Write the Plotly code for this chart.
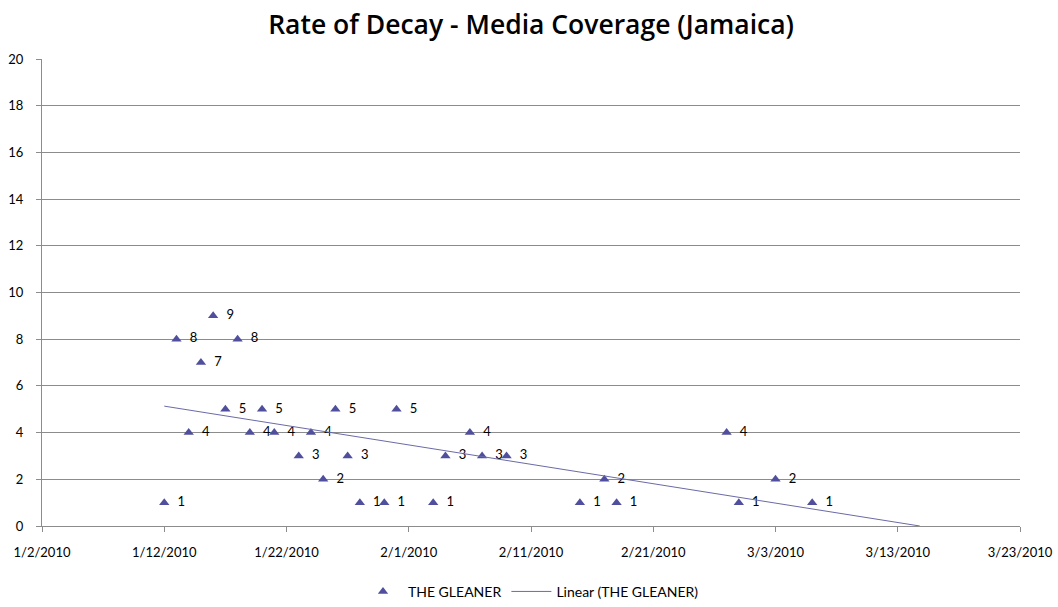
import numpy as np
import pandas as pd
import plotly.graph_objects as go

# Daily article counts for THE GLEANER
dates = ["2010-01-12", "2010-01-13", "2010-01-14", "2010-01-15", "2010-01-16",
         "2010-01-17", "2010-01-18", "2010-01-19", "2010-01-20", "2010-01-21",
         "2010-01-23", "2010-01-24", "2010-01-25", "2010-01-26", "2010-01-27",
         "2010-01-28", "2010-01-30", "2010-01-31", "2010-02-03", "2010-02-04",
         "2010-02-06", "2010-02-07", "2010-02-09", "2010-02-15", "2010-02-17",
         "2010-02-18", "2010-02-27", "2010-02-28", "2010-03-03", "2010-03-06"]
counts = [1, 8, 4, 7, 9, 5, 8, 4, 5, 4,
          3, 4, 2, 5, 3, 1, 1, 5, 1, 3,
          4, 3, 3, 1, 2, 1, 4, 1, 2, 1]

tick_dates = ["2010-01-02", "2010-01-12", "2010-01-22", "2010-02-01", "2010-02-11",
              "2010-02-21", "2010-03-03", "2010-03-13", "2010-03-23"]
tick_labels = ["1/2/2010", "1/12/2010", "1/22/2010", "2/1/2010", "2/11/2010",
               "2/21/2010", "3/3/2010", "3/13/2010", "3/23/2010"]

x = pd.to_datetime(dates)
ref = pd.Timestamp("2010-01-02")
days = np.array([(d - ref).days for d in x], dtype=float)
y = np.array(counts, dtype=float)

# Least-squares trend, extended forward until it reaches zero
slope, intercept = np.polyfit(days, y, 1)
d_end = -intercept / slope
trend_days = np.array([days.min(), d_end])
trend_x = [ref + pd.Timedelta(days=float(d)) for d in trend_days]
trend_y = slope * trend_days + intercept

font_family = "Lato, 'Open Sans', sans-serif"
title_family = "'Open Sans', Lato, sans-serif"
marker_color = "#4F4F9E"
axis_color = "#8C8C8C"

fig = go.Figure()
fig.add_trace(go.Scatter(
    x=x, y=y, mode="markers+text", name="THE GLEANER",
    marker=dict(symbol="triangle-up", size=9, color=marker_color),
    text=[str(c) for c in counts], texttemplate="  %{text}",
    textposition="middle right",
    textfont=dict(size=13, color="#000000", family=font_family),
))
fig.add_trace(go.Scatter(
    x=trend_x, y=trend_y, mode="lines", name="Linear (THE GLEANER)",
    line=dict(color="#6A6AA8", width=1),
))

fig.update_layout(
    width=1058, height=607,
    margin=dict(l=42, r=38, t=59, b=81, autoexpand=False),
    paper_bgcolor="white", plot_bgcolor="white",
    font=dict(family=font_family, size=13, color="#000000"),
    title=dict(text="Rate of Decay - Media Coverage (Jamaica)",
               x=0.502, xanchor="center", y=0.96, yanchor="middle",
               font=dict(size=26.5, family=title_family, color="#000000",
                         weight=600)),
    showlegend=True,
    legend=dict(orientation="h", x=0.5, xanchor="center",
                yref="container", y=0.025, yanchor="middle",
                font=dict(size=14), itemwidth=40),
    xaxis=dict(
        type="date",
        range=[tick_dates[0], tick_dates[-1]],
        tickvals=tick_dates, ticktext=tick_labels,
        showgrid=False, zeroline=False,
        showline=True, linecolor=axis_color, linewidth=1,
        ticks="outside", ticklen=5, tickcolor=axis_color,
        ticklabelstandoff=9,
        tickfont=dict(size=13),
    ),
    yaxis=dict(
        range=[0, 20], dtick=2,
        showgrid=True, gridcolor=axis_color, gridwidth=1,
        zeroline=False,
        showline=True, linecolor=axis_color, linewidth=1,
        ticks="outside", ticklen=5, tickcolor=axis_color,
        ticklabelstandoff=10,
        tickfont=dict(size=13),
    ),
)

fig.write_html("out.html")
